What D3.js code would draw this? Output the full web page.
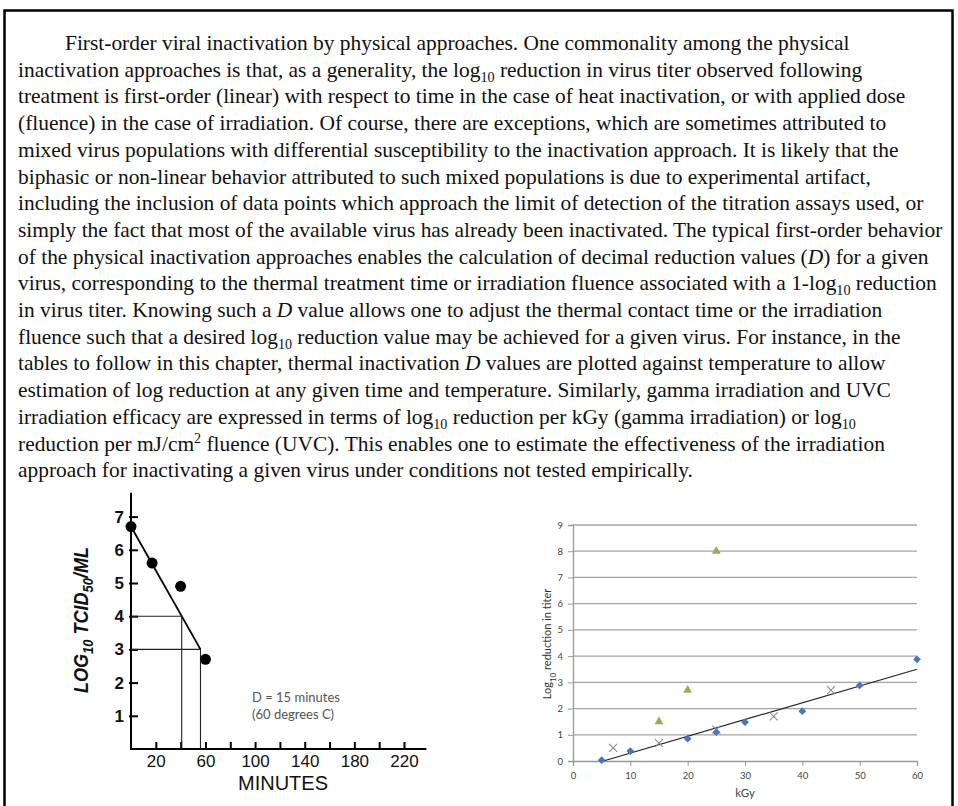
<!DOCTYPE html>
<html>
<head>
<meta charset="utf-8">
<script src="https://cdn.jsdelivr.net/npm/d3@7"></script>
<style>
  body { margin: 0; background: #fff; }
  svg { display: block; }
</style>
</head>
<body>
<svg id="page" width="958" height="806"></svg>
<script>
// ---- paragraph, one entry per printed line ([text, style]) ----
var paraLines = [
  [["First-order viral inactivation by physical approaches. One commonality among the physical"]],
  [["inactivation approaches is that, as a generality, the log"], ["10", "sub"], [" reduction in virus titer observed following"]],
  [["treatment is first-order (linear) with respect to time in the case of heat inactivation, or with applied dose"]],
  [["(fluence) in the case of irradiation. Of course, there are exceptions, which are sometimes attributed to"]],
  [["mixed virus populations with differential susceptibility to the inactivation approach. It is likely that the"]],
  [["biphasic or non-linear behavior attributed to such mixed populations is due to experimental artifact,"]],
  [["including the inclusion of data points which approach the limit of detection of the titration assays used, or"]],
  [["simply the fact that most of the available virus has already been inactivated. The typical first-order behavior"]],
  [["of the physical inactivation approaches enables the calculation of decimal reduction values ("], ["D", "it"], [") for a given"]],
  [["virus, corresponding to the thermal treatment time or irradiation fluence associated with a 1-log"], ["10", "sub"], [" reduction"]],
  [["in virus titer. Knowing such a "], ["D", "it"], [" value allows one to adjust the thermal contact time or the irradiation"]],
  [["fluence such that a desired log"], ["10", "sub"], [" reduction value may be achieved for a given virus. For instance, in the"]],
  [["tables to follow in this chapter, thermal inactivation "], ["D", "it"], [" values are plotted against temperature to allow"]],
  [["estimation of log reduction at any given time and temperature. Similarly, gamma irradiation and UVC"]],
  [["irradiation efficacy are expressed in terms of log"], ["10", "sub"], [" reduction per kGy (gamma irradiation) or log"], ["10", "sub"]],
  [["reduction per mJ/cm"], ["2", "sup"], [" fluence (UVC). This enables one to estimate the effectiveness of the irradiation"]],
  [["approach for inactivating a given virus under conditions not tested empirically."]]
];

// ---- left chart: heat inactivation (60 C) ----
var heatMinutes = [0, 17, 40, 60];
var heatLog = [6.7, 5.6, 4.9, 2.7];
var heatFitMinutes = [0, 56];      // hand drawn first-order line
var heatFitLog = [6.7, 3.0];
var heatGuideLevels = [4, 3];      // read-off levels for D
var heatYTicks = [1, 2, 3, 4, 5, 6, 7];
var heatXTicks = [20, 40, 60, 80, 100, 120, 140, 160, 180, 200, 220];
var heatXLabels = [20, 60, 100, 140, 180, 220];
var heatNote = ["D = 15 minutes", "(60 degrees C)"];

// ---- right chart: gamma irradiation ----
var blueKgy = [5, 10, 20, 25, 30, 40, 50, 60];
var blueLog = [0.03, 0.38, 0.85, 1.1, 1.48, 1.9, 2.88, 3.88];
var greenKgy = [15, 20, 25];
var greenLog = [1.5, 2.7, 8.0];
var crossKgy = [7, 15, 25, 35, 45];
var crossLog = [0.5, 0.68, 1.2, 1.7, 2.7];
var trendKgy = [5.3, 60];
var trendLog = [0, 3.5];
var gammaYTicks = [0, 1, 2, 3, 4, 5, 6, 7, 8, 9];
var gammaXTicks = [0, 10, 20, 30, 40, 50, 60];

var svg = d3.select("#page");
svg.append("rect").attr("width", 958).attr("height", 806).attr("fill", "#fff");

// frame
svg.append("rect")
  .attr("x", 4.5).attr("y", 10.5).attr("width", 948).attr("height", 830)
  .attr("fill", "none").attr("stroke", "#000").attr("stroke-width", 2.5);

// ---------- paragraph ----------
var para = svg.append("g")
  .style("font-family", "'Liberation Serif', 'Times New Roman', serif")
  .style("font-size", "22px")
  .attr("fill", "#111");

var paraTop = 50, paraLead = 26.7, paraLeft = 18, paraIndent = 65, paraRight = 943;

function writeLine(t, segs, small) {
  var shift = 0;
  segs.forEach(function(s) {
    var ts = t.append("tspan").text(s[0]);
    var want = 0;
    if (s[1] === "sub") { ts.attr("font-size", small || "14.5px"); want = 5; }
    if (s[1] === "sup") { ts.attr("font-size", small || "14.5px"); want = -8; }
    if (s[1] === "it") ts.attr("font-style", "italic");
    if (want !== shift) ts.attr("dy", want - shift);
    shift = want;
  });
}

var lines = paraLines.map(function(segs) {
  var t = para.append("text").attr("x", 0).attr("y", 0);
  writeLine(t, segs);
  return t;
});
// squeeze the serif so the longest line fills the measure, like the narrow book face
var sx = (paraRight - paraLeft) / lines[7].node().getComputedTextLength();
lines.forEach(function(t, i) {
  var x0 = i === 0 ? paraIndent : paraLeft;
  t.attr("transform", "translate(" + x0 + "," + (paraTop + i * paraLead) + ") scale(" + sx + ",1)");
});

// ---------- left chart ----------
var hx = d3.scaleLinear().domain([0, 220]).range([131, 404]);
var hy = d3.scaleLinear().domain([0, 7]).range([749, 516.6]);
var heat = svg.append("g").style("font-family", "'Liberation Sans', Arial, sans-serif");

heat.append("line")
  .attr("x1", hx(0)).attr("x2", hx(0)).attr("y1", hy(0)).attr("y2", hy(7.72))
  .attr("stroke", "#000").attr("stroke-width", 2);
heat.append("line")
  .attr("x1", hx(0) - 1).attr("x2", hx(238)).attr("y1", hy(0)).attr("y2", hy(0))
  .attr("stroke", "#000").attr("stroke-width", 2);

var hxAxis = d3.axisBottom(hx).tickValues(heatXTicks).tickSize(-7).tickPadding(18)
  .tickFormat(function(d) { return heatXLabels.indexOf(d) >= 0 ? d : ""; });
var gxh = heat.append("g").attr("transform", "translate(0," + hy(0) + ")").call(hxAxis);
gxh.select(".domain").remove();
gxh.selectAll(".tick line").attr("stroke", "#000").attr("stroke-width", 2);
gxh.selectAll(".tick text").attr("fill", "#111").style("font-size", "17px").attr("dy", "0");

var hyAxis = d3.axisLeft(hy).tickValues(heatYTicks).tickSize(-7).tickPadding(7)
  .tickFormat(d3.format("d"));
var gyh = heat.append("g").attr("transform", "translate(" + hx(0) + ",0)").call(hyAxis);
gyh.select(".domain").remove();
gyh.selectAll(".tick line").attr("x1", -2).attr("stroke", "#000").attr("stroke-width", 2);
gyh.selectAll(".tick text").attr("fill", "#111").style("font-size", "17px").style("font-weight", "bold");

heat.append("text")
  .attr("x", 283).attr("y", 790)
  .attr("text-anchor", "middle").style("font-size", "20px").attr("fill", "#111")
  .text("MINUTES");

// y label, rotated and squeezed to the scanned lettering
var hyl = heat.append("text")
  .attr("transform", "translate(88,620) rotate(-90)")
  .attr("text-anchor", "middle")
  .attr("textLength", 146).attr("lengthAdjust", "spacingAndGlyphs")
  .style("font-size", "21px").style("font-style", "italic").style("font-weight", "bold")
  .attr("fill", "#111");
writeLine(hyl, [["LOG"], ["10", "sub"], [" TCID"], ["50", "sub"], ["/ML"]], "15px");

// fitted line and read-off guides
var fitLine = d3.line().x(function(d) { return hx(d[0]); }).y(function(d) { return hy(d[1]); });
heat.append("path")
  .attr("d", fitLine(d3.zip(heatFitMinutes, heatFitLog)))
  .attr("fill", "none").attr("stroke", "#000").attr("stroke-width", 1.8);

var minuteAt = d3.scaleLinear().domain(heatFitLog).range(heatFitMinutes);
heatGuideLevels.forEach(function(lv) {
  var m = minuteAt(lv);
  heat.append("path")
    .attr("d", "M" + hx(0) + "," + hy(lv) + "H" + hx(m) + "V" + hy(0))
    .attr("fill", "none").attr("stroke", "#222").attr("stroke-width", 1.1);
});

heat.selectAll("circle.pt")
  .data(d3.zip(heatMinutes, heatLog))
  .enter().append("circle")
  .attr("class", "pt")
  .attr("cx", function(d) { return hx(d[0]); })
  .attr("cy", function(d) { return hy(d[1]); })
  .attr("r", 5.5).attr("fill", "#000");

heat.selectAll("text.note")
  .data(heatNote)
  .enter().append("text")
  .attr("class", "note")
  .attr("x", 252).attr("y", function(d, i) { return 702 + i * 17; })
  .style("font-family", "Lato, 'Open Sans', sans-serif").style("font-size", "13px")
  .attr("fill", "#555")
  .text(function(d) { return d; });

// ---------- right chart ----------
var gx = d3.scaleLinear().domain([0, 60]).range([573, 917]);
var gy = d3.scaleLinear().domain([0, 9]).range([761, 525]);
var gam = svg.append("g").style("font-family", "Lato, 'Open Sans', sans-serif");

gam.selectAll("line.grid")
  .data(gammaYTicks.slice(1))
  .enter().append("line")
  .attr("class", "grid")
  .attr("x1", gx(0)).attr("x2", gx(60))
  .attr("y1", function(d) { return gy(d); }).attr("y2", function(d) { return gy(d); })
  .attr("stroke", "#a3a3a3").attr("stroke-width", 1.3);

var gyAxis = d3.axisLeft(gy).tickValues(gammaYTicks).tickSize(5).tickPadding(5);
var gyg = gam.append("g").attr("transform", "translate(" + gx(0) + ",0)").call(gyAxis);
var gxAxis = d3.axisBottom(gx).tickValues(gammaXTicks).tickSize(5).tickPadding(6);
var gxg = gam.append("g").attr("transform", "translate(0," + gy(0) + ")").call(gxAxis);
[gyg, gxg].forEach(function(g) {
  g.select(".domain").attr("stroke", "#999").attr("stroke-width", 1.3);
  g.selectAll(".tick line").attr("stroke", "#999");
  g.selectAll(".tick text").attr("fill", "#444").style("font-size", "9.5px")
    .style("font-family", "Lato, 'Open Sans', sans-serif");
});

gam.append("text")
  .attr("x", (gx(0) + gx(60)) / 2).attr("y", 797)
  .attr("text-anchor", "middle").style("font-size", "11.5px").attr("fill", "#444")
  .text("kGy");

var gyl = gam.append("text")
  .attr("transform", "translate(551,644) rotate(-90)")
  .attr("text-anchor", "middle").style("font-size", "11px").attr("fill", "#333");
writeLine(gyl, [["Log"], ["10", "sub"], [" reduction in titer"]], "8px");

var trend = d3.line().x(function(d) { return gx(d[0]); }).y(function(d) { return gy(d[1]); });
gam.append("path")
  .attr("d", trend(d3.zip(trendKgy, trendLog)))
  .attr("fill", "none").attr("stroke", "#222").attr("stroke-width", 1.2);

gam.selectAll("path.cross")
  .data(d3.zip(crossKgy, crossLog))
  .enter().append("path")
  .attr("class", "cross")
  .attr("transform", function(d) { return "translate(" + gx(d[0]) + "," + gy(d[1]) + ")"; })
  .attr("d", "M-4,-4L4,4M-4,4L4,-4")
  .attr("stroke", "#8e879c").attr("stroke-width", 1.1).attr("fill", "none");

gam.selectAll("path.tri")
  .data(d3.zip(greenKgy, greenLog))
  .enter().append("path")
  .attr("class", "tri")
  .attr("transform", function(d) { return "translate(" + gx(d[0]) + "," + gy(d[1]) + ")"; })
  .attr("d", d3.symbol(d3.symbolTriangle, 34))
  .attr("fill", "#8fb350");

gam.selectAll("path.dia")
  .data(d3.zip(blueKgy, blueLog))
  .enter().append("path")
  .attr("class", "dia")
  .attr("transform", function(d) { return "translate(" + gx(d[0]) + "," + gy(d[1]) + ") rotate(45)"; })
  .attr("d", d3.symbol(d3.symbolSquare, 30))
  .attr("fill", "#4677b8");
</script>
</body>
</html>
